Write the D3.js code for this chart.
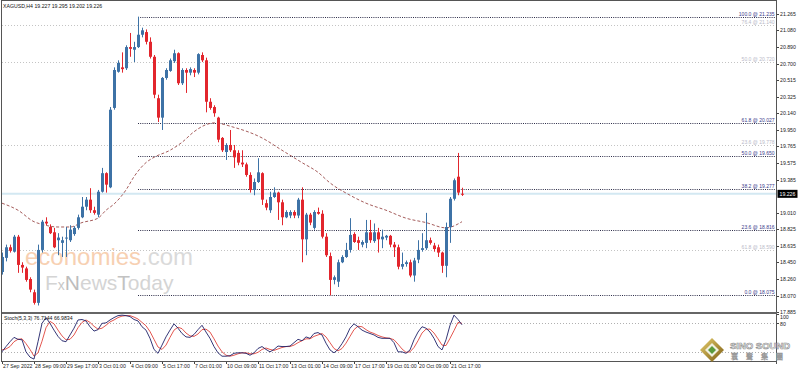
<!DOCTYPE html>
<html>
<head>
<meta charset="utf-8">
<title>XAGUSD H4</title>
<style>
  body { margin: 0; background: #fff; }
  svg { display: block; font-family: "Liberation Sans", Arial, sans-serif; }
  .axis text { font-size: 5.2px; fill: #222; }
  .axis line { stroke: #444; shape-rendering: crispEdges; }
  .axis .domain { display: none; }
</style>
</head>
<body>
<svg width="798" height="372"></svg>
<script src="https://d3js.org/d3.v7.min.js"></script>
<script>
// H4 bars from 27 Sep 2022 01:00, [open, high, low, close]
var candles = [
  [18.34,18.56,18.31,18.51],[18.50,18.65,18.46,18.62],[18.62,18.65,18.56,18.58],[18.57,18.76,18.56,18.74],
  [18.74,18.76,18.33,18.42],[18.42,18.45,18.33,18.39],[18.38,18.40,18.23,18.25],[18.26,18.28,18.11,18.14],
  [18.11,18.14,17.97,17.99],[17.99,18.65,17.96,18.59],[18.59,18.93,18.56,18.91],[18.91,18.96,18.87,18.89],
  [18.85,18.88,18.77,18.78],[18.79,18.84,18.61,18.62],[18.70,18.78,18.53,18.73],[18.67,18.74,18.51,18.70],
  [18.72,18.85,18.51,18.73],[18.70,18.87,18.68,18.82],[18.77,18.86,18.75,18.84],[18.84,18.99,18.82,18.96],
  [18.96,19.19,18.95,19.08],[19.08,19.19,19.04,19.16],[19.16,19.29,19.01,19.04],[19.04,19.08,18.99,19.01],
  [18.99,19.27,18.96,19.25],[19.25,19.52,19.24,19.46],[19.46,19.47,19.24,19.33],[19.30,20.21,19.29,20.18],
  [20.20,20.66,20.18,20.63],[20.61,20.74,20.60,20.71],[20.66,20.83,20.60,20.64],[20.65,20.91,20.63,20.89],
  [20.89,21.05,20.78,20.87],[20.86,20.95,20.72,20.89],[20.89,21.235,20.88,21.03],[21.03,21.11,21.00,21.08],
  [21.06,21.09,20.92,20.95],[20.95,21.00,20.76,20.78],[20.78,20.80,20.31,20.35],[20.31,20.35,20.04,20.09],
  [20.09,20.55,19.95,20.54],[20.54,20.65,20.52,20.63],[20.62,20.76,20.61,20.74],[20.73,20.86,20.71,20.82],
  [20.82,20.83,20.46,20.48],[20.48,20.65,20.46,20.63],[20.63,20.65,20.37,20.60],[20.60,20.66,20.57,20.64],
  [20.63,20.65,20.55,20.60],[20.60,20.82,20.58,20.81],[20.80,20.83,20.72,20.74],[20.74,20.77,20.15,20.27],
  [20.27,20.31,20.18,20.20],[20.21,20.23,20.10,20.14],[20.09,20.10,19.81,19.84],[19.86,19.87,19.70,19.72],
  [19.70,19.80,19.61,19.78],[19.78,19.95,19.70,19.72],[19.72,19.78,19.52,19.64],[19.69,19.72,19.55,19.58],
  [19.58,19.72,19.53,19.56],[19.56,19.58,19.42,19.44],[19.44,19.47,19.24,19.27],[19.27,19.40,19.21,19.36],
  [19.36,19.63,19.35,19.47],[19.46,19.47,19.10,19.16],[19.12,19.16,19.04,19.07],[19.04,19.25,19.01,19.19],
  [19.19,19.30,19.18,19.24],[19.24,19.25,18.93,19.13],[19.13,19.16,18.87,18.96],[18.96,19.04,18.95,19.02],
  [18.98,19.04,18.95,19.02],[19.02,19.04,18.95,18.98],[18.98,19.18,18.95,19.16],[19.16,19.30,18.45,18.71],
  [18.71,19.01,18.53,18.99],[18.99,19.01,18.87,18.90],[18.84,19.04,18.82,19.02],[19.02,19.07,18.99,19.00],
  [19.00,19.04,18.72,18.74],[18.74,18.78,18.51,18.53],[18.52,18.56,18.075,18.25],[18.25,18.30,18.20,18.28],
  [18.23,18.48,18.17,18.45],[18.45,18.53,18.44,18.51],[18.51,18.67,18.50,18.59],[18.59,18.95,18.56,18.76],
  [18.77,18.79,18.67,18.68],[18.70,18.74,18.59,18.67],[18.65,18.70,18.62,18.68],[18.67,18.93,18.61,18.79],
  [18.79,18.93,18.67,18.70],[18.69,18.89,18.67,18.79],[18.79,18.84,18.56,18.71],[18.71,18.82,18.61,18.74],
  [18.73,18.76,18.70,18.75],[18.75,18.76,18.62,18.65],[18.65,18.68,18.51,18.62],[18.62,18.65,18.37,18.40],
  [18.40,18.56,18.37,18.43],[18.43,18.47,18.40,18.45],[18.45,18.48,18.28,18.30],[18.30,18.50,18.23,18.47],
  [18.48,18.70,18.44,18.59],[18.59,18.78,18.57,18.61],[18.61,19.01,18.59,18.70],[18.70,18.73,18.65,18.67],
  [18.64,18.67,18.57,18.60],[18.62,18.65,18.51,18.56],[18.56,18.57,18.33,18.41],[18.41,18.90,18.28,18.85],
  [18.85,19.19,18.67,19.17],[19.17,19.40,19.15,19.38],[19.42,19.69,19.21,19.24],[19.227,19.295,19.202,19.226]
];

// moving average: [bar, price]
var maPoints = [
  [0,19.12],[4,19.04],[8,18.91],[10,18.88],[14,18.85],[17,18.85],[20,18.90],[24,18.95],[26,19.04],
  [28,19.11],[31,19.27],[33,19.42],[36,19.58],[38,19.64],[42,19.72],[45,19.81],[48,19.93],[51,20.01],
  [53,20.03],[58,19.98],[65,19.86],[70,19.72],[75,19.58],[79,19.47],[82,19.35],[87,19.21],[91,19.12],
  [96,19.04],[101,18.95],[106,18.90],[111,18.84],[115,18.91]
];

var stochK = [
  21,32,42,51,47,46,21,10,6,42,80,92,80,66,53,44,42,56,70,87,88,85,73,64,67,80,81,87,92,96,
  97,96,94,88,85,73,66,49,26,18,35,52,66,79,70,59,52,51,57,67,76,62,49,32,19,12,12,13,18,19,
  19,18,14,19,28,32,26,21,26,33,32,32,33,40,47,44,52,49,59,61,56,39,25,19,26,38,52,70,79,73,
  66,62,59,56,51,49,49,49,40,21,21,18,25,46,62,73,70,62,49,32,25,46,76,97,88,77
];
var stochD = [
  25,27,32,42,47,48,38,26,12,19,43,71,84,79,66,54,46,47,56,71,82,87,82,74,68,70,76,83,87,92,
  95,96,96,93,89,82,75,63,47,31,26,35,51,66,72,69,60,54,53,58,67,68,62,48,33,21,14,12,14,17,
  19,19,17,17,20,26,29,26,24,27,30,32,32,35,40,44,48,48,53,56,59,52,40,28,23,28,39,53,67,74,
  73,67,62,59,55,52,50,49,46,37,27,20,21,30,44,60,68,68,60,48,35,34,49,65,82,80
];

var priceTicks = [21.265,21.080,20.890,20.700,20.515,20.325,20.140,19.950,19.765,19.575,19.385,
                  19.010,18.825,18.635,18.450,18.260,18.070,17.885];
var timeTicks = [0,8,16,24,32,40,48,56,64,72,80,88,96,104,112];
var timeLabels = ["27 Sep 2022","28 Sep 09:00","29 Sep 17:00","3 Oct 01:00","4 Oct 09:00",
                  "5 Oct 17:00","7 Oct 01:00","10 Oct 09:00","11 Oct 17:00","13 Oct 01:00",
                  "14 Oct 09:00","17 Oct 17:00","19 Oct 01:00","20 Oct 09:00","21 Oct 17:00"];

// fibonacci retracement from bar 34 high to bar 82 low
var fibLevels = [100.0, 61.8, 50.0, 38.2, 23.6, 0.0];
var fibPrices = [21.235, 20.027, 19.650, 19.277, 18.816, 18.075];
var fibStart = 34;
// older, faded levels
var oldLevels = [76.4, 50.0, 23.6, 61.8];
var oldPrices = [21.140, 20.720, 19.778, 18.590];

var lastPrice = 19.226;

var svg = d3.select("svg"),
    width = +svg.attr("width"),
    height = +svg.attr("height");

var axisX = 776.5, panelBottom = 312, stochBottom = 361.5;

var x = d3.scaleLinear().domain([0, 115]).range([2, 462]);
var y = d3.scaleLinear().domain([17.885, 21.265]).range([312.1, 14]);
var ys = d3.scaleLinear().domain([0, 100]).range([362, 313.7]);

svg.append("rect").attr("width", width).attr("height", height).attr("fill", "#fff");

var defs = svg.append("defs");
defs.append("clipPath").attr("id", "main")
  .append("rect").attr("x", 2).attr("y", 1).attr("width", axisX - 2).attr("height", panelBottom - 1);
defs.append("clipPath").attr("id", "sub")
  .append("rect").attr("x", 2).attr("y", panelBottom + 1).attr("width", axisX - 2).attr("height", stochBottom - panelBottom - 1);

// watermark
var wm = svg.append("g");
var t1 = wm.append("text").attr("x", 25).attr("y", 265).style("font-size", "24px");
t1.append("tspan").attr("fill", "#f7d0b2").text("economies");
t1.append("tspan").attr("fill", "#dadada").text(".com");
var t2 = wm.append("text").attr("x", 45).attr("y", 290).style("font-size", "21px").attr("fill", "#d4d4d4");
t2.append("tspan").text("F");
t2.append("tspan").style("font-size", "14px").attr("fill", "#c8c8c8").text("x");
t2.append("tspan").attr("fill", "#bdbdbd").text("N");
t2.append("tspan").text("ews");
t2.append("tspan").attr("fill", "#c2c2c2").text("T");
t2.append("tspan").text("oday");

var main = svg.append("g").attr("clip-path", "url(#main)");

// last price line
main.append("line")
  .attr("x1", 2).attr("x2", axisX).attr("y1", y(lastPrice)).attr("y2", y(lastPrice))
  .attr("stroke", "#d3e8f2").attr("stroke-width", 2);

// faded levels
oldPrices.forEach(function(p, i) {
  var yy = Math.round(y(p)) + 0.5;
  main.append("line").attr("x1", 2).attr("x2", axisX).attr("y1", yy).attr("y2", yy)
    .attr("stroke", "#c4c4c4").attr("stroke-dasharray", "1,2");
  main.append("text").attr("x", axisX - 2).attr("y", yy - 1.5).attr("text-anchor", "end")
    .style("font-size", "5px").attr("fill", "#b9b9c8")
    .text(oldLevels[i].toFixed(1) + " @ " + p.toFixed(3));
});

// fibonacci levels
fibPrices.forEach(function(p, i) {
  var yy = Math.round(y(p)) + 0.5;
  main.append("line").attr("x1", x(fibStart)).attr("x2", axisX).attr("y1", yy).attr("y2", yy)
    .attr("stroke", "#2c2c48").attr("stroke-dasharray", "1,1.2");
  main.append("text").attr("x", axisX - 2).attr("y", yy - 1.5).attr("text-anchor", "end")
    .style("font-size", "5px").attr("fill", "#3a3a8a")
    .text(fibLevels[i].toFixed(1) + " @ " + p.toFixed(3));
});

// moving average
main.append("path").datum(maPoints)
  .attr("fill", "none").attr("stroke", "#9a4a48").attr("stroke-width", 0.9)
  .attr("stroke-dasharray", "3,2")
  .attr("d", d3.line().x(function(d) { return x(d[0]); }).y(function(d) { return y(d[1]); })
    .curve(d3.curveMonotoneX));

// candles
var bar = main.selectAll("g.bar").data(candles).enter().append("g")
  .attr("class", "bar")
  .attr("fill", function(d) { return d[3] >= d[0] ? "#3d72a6" : "#e2262d"; })
  .attr("stroke", function(d) { return d[3] >= d[0] ? "#3d72a6" : "#e2262d"; });
bar.append("line")
  .attr("x1", function(d, i) { return x(i) + 0.5; })
  .attr("x2", function(d, i) { return x(i) + 0.5; })
  .attr("y1", function(d) { return y(d[1]); })
  .attr("y2", function(d) { return y(d[2]); })
  .attr("stroke-width", 1);
bar.append("rect")
  .attr("stroke", "none")
  .attr("x", function(d, i) { return x(i) - 1; })
  .attr("width", 3)
  .attr("y", function(d) { return y(Math.max(d[0], d[3])); })
  .attr("height", function(d) { return Math.max(1, Math.abs(y(d[0]) - y(d[3]))); });

// title
svg.append("text").attr("x", 3).attr("y", 7.5).style("font-size", "5.2px").attr("fill", "#111")
  .text("XAGUSD,H4  19.227 19.295 19.202 19.226");

// stochastic panel
var sub = svg.append("g").attr("clip-path", "url(#sub)");
[80, 20].forEach(function(v) {
  var yy = Math.round(ys(v)) + 0.5;
  sub.append("line").attr("x1", 2).attr("x2", axisX).attr("y1", yy).attr("y2", yy)
    .attr("stroke", "#b0b0b0").attr("stroke-dasharray", "1,2");
});
var sLine = d3.line().x(function(d, i) { return x(i); }).y(function(d) { return ys(d); });
sub.append("path").datum(stochD).attr("fill", "none").attr("stroke", "#e0443c")
  .attr("stroke-width", 0.9).attr("d", sLine);
sub.append("path").datum(stochK).attr("fill", "none").attr("stroke", "#1e2068")
  .attr("stroke-width", 0.9).attr("d", sLine);
svg.append("text").attr("x", 4).attr("y", 320).style("font-size", "5.2px").attr("fill", "#111")
  .text("Stoch(5,3,3) 76.7144 66.9834");

// frame
var frame = svg.append("g").attr("stroke", "#555").attr("shape-rendering", "crispEdges");
frame.append("line").attr("x1", 1.5).attr("x2", 1.5).attr("y1", 0).attr("y2", stochBottom);
frame.append("line").attr("x1", 1.5).attr("x2", axisX).attr("y1", 0.5).attr("y2", 0.5);
frame.append("line").attr("x1", axisX).attr("x2", axisX).attr("y1", 0).attr("y2", stochBottom + 2);
frame.append("line").attr("x1", 1.5).attr("x2", axisX).attr("y1", stochBottom).attr("y2", stochBottom);
frame.append("line").attr("x1", 1.5).attr("x2", axisX).attr("y1", panelBottom + 0.5).attr("y2", panelBottom + 0.5)
  .attr("stroke-width", 2).attr("stroke", "#666");

// price axis
svg.append("g").attr("class", "axis").attr("transform", "translate(" + axisX + ",0)")
  .call(d3.axisRight(y).tickValues(priceTicks).tickSize(2.5).tickPadding(1).tickFormat(d3.format(".3f")));

// current price box
svg.append("rect").attr("x", axisX + 1).attr("y", y(lastPrice) - 4).attr("width", 20).attr("height", 8)
  .attr("fill", "#000");
svg.append("text").attr("x", axisX + 3).attr("y", y(lastPrice) + 2).style("font-size", "5.2px")
  .attr("fill", "#fff").text(lastPrice.toFixed(3));

// stochastic axis
svg.append("g").attr("class", "axis").attr("transform", "translate(" + axisX + ",0)")
  .call(d3.axisRight(ys).tickValues([100, 80]).tickSize(2.5).tickPadding(1))
  .selectAll("text").attr("dy", function(d) { return d === 100 ? "0.9em" : "0.4em"; });

// time axis
var tAxis = svg.append("g").attr("class", "axis").attr("transform", "translate(0," + stochBottom + ")")
  .call(d3.axisBottom(x).tickValues(timeTicks).tickSize(2).tickPadding(1)
    .tickFormat(function(d, i) { return timeLabels[i]; }));
tAxis.selectAll("text").attr("text-anchor", "start").attr("x", 0.5);

// logo
var logo = svg.append("g").attr("transform", "translate(712,350)");
var grad = defs.append("linearGradient").attr("id", "gold").attr("x1", 0).attr("y1", 0).attr("x2", 1).attr("y2", 1);
grad.append("stop").attr("offset", "0%").attr("stop-color", "#e8d070");
grad.append("stop").attr("offset", "100%").attr("stop-color", "#7a5a10");
logo.append("path").attr("d", "M0,-12L12,0L0,12L-12,0Z").attr("fill", "url(#gold)");
logo.append("path").attr("d", "M0,-7L7,0L0,7L-7,0Z").attr("fill", "#f0f0e0");
logo.append("path").attr("d", "M0,-4L4,0L0,4L-4,0Z").attr("fill", "#5a9a3c");
svg.append("text").attr("x", 730).attr("y", 349).style("font-size", "9.5px").style("font-weight", "bold")
  .attr("fill", "#fff").attr("stroke", "#8a8a8a").attr("stroke-width", 0.6)
  .text("SINO SOUND");
svg.append("text").attr("x", 731).attr("y", 359).style("font-size", "7px")
  .style("font-family", "'Noto Sans CJK TC', sans-serif").style("letter-spacing", "8px")
  .attr("fill", "#fff").attr("stroke", "#9a9a9a").attr("stroke-width", 0.5)
  .text("寰聲集團");
</script>
</body>
</html>
